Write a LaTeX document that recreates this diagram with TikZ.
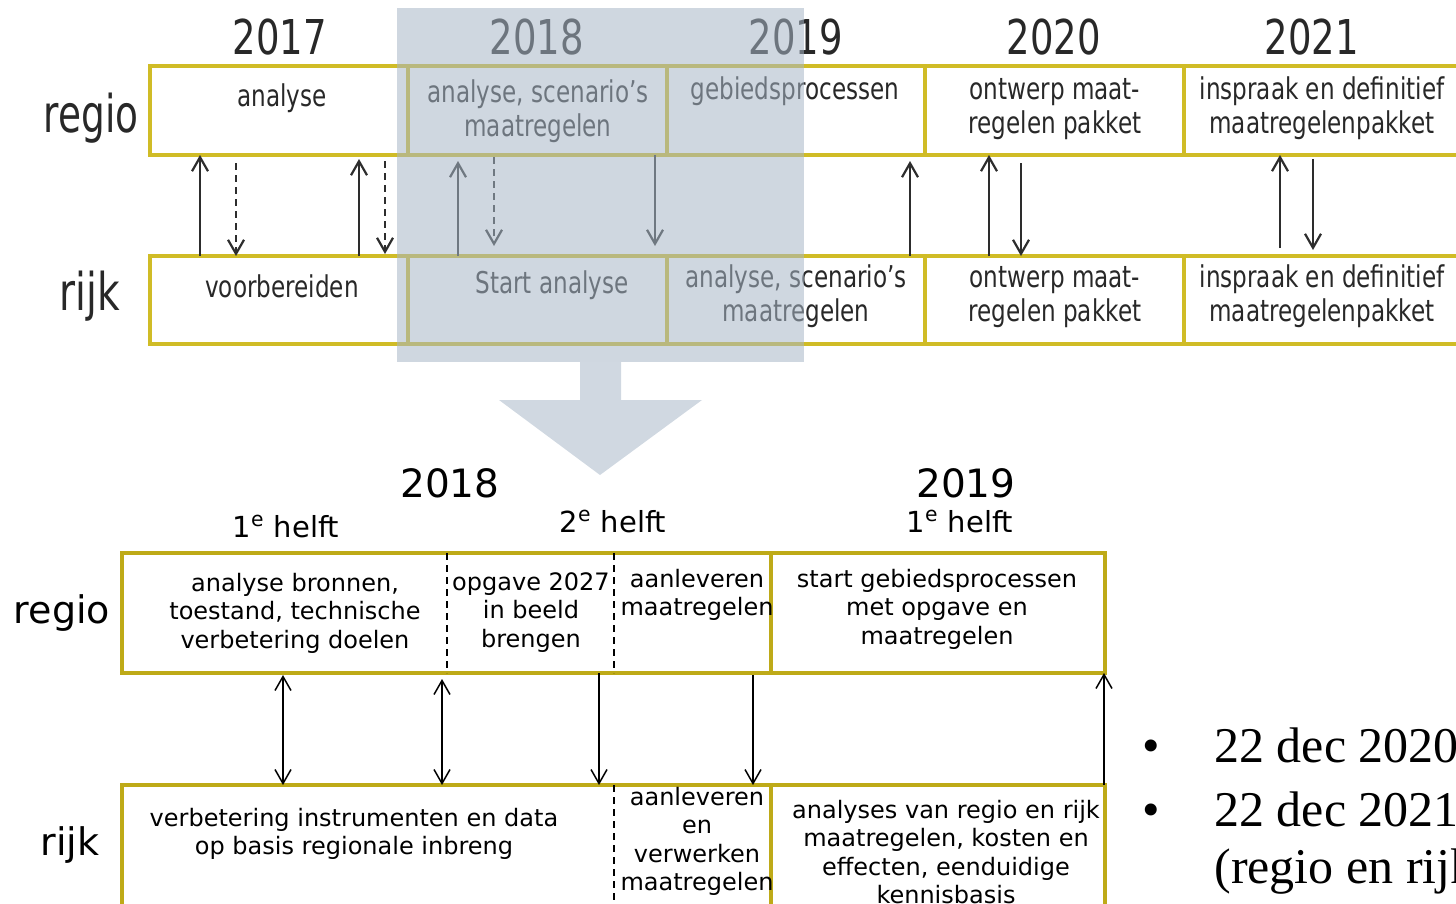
\documentclass[tikz,border=0pt]{standalone}
\usepackage{fontspec}
\setmainfont{DejaVu Sans}
\newfontfamily\seriffam{Liberation Serif}
\usepackage{graphicx}
\usetikzlibrary{arrows.meta}
\definecolor{topy}{RGB}{208,188,38}
\definecolor{boty}{RGB}{190,170,24}
\definecolor{shadec}{RGB}{167,182,198}
\definecolor{arrowc}{RGB}{208,216,225}
\definecolor{toptext}{RGB}{40,40,40}
\definecolor{toparr}{RGB}{45,45,45}
\newcommand\sq[3][0.77]{\scalebox{#1}[1]{\fontsize{#2}{17}\selectfont\begin{tabular}[t]{@{}c@{}}#3\end{tabular}}}
\newcommand\bt[2][12]{{\fontsize{#1}{14.3}\selectfont\begin{tabular}[t]{@{}c@{}}#2\end{tabular}}}
\newcommand\cellnode[6]{\node[#6, minimum width={(#4-#2)*0.5pt}, minimum height={(#5-#3)*0.5pt}, anchor=north west] (#1) at (#2,#3) {};}
\begin{document}
\begin{tikzpicture}[x=0.5pt,y=-0.5pt,
  topcell/.style={draw=topy, line width=2pt, inner sep=0pt, outer sep=0pt},
  botcell/.style={draw=boty, line width=2pt, inner sep=0pt, outer sep=0pt},
  topt/.style={anchor=base, inner sep=0pt, text=toptext},
  bott/.style={anchor=base, inner sep=0pt, text=black},
  tarr/.style={draw=toparr, line width=1.1pt, -{Straight Barb[length=7pt,width=8pt]}},
  tdash/.style={tarr, dash pattern=on 3.5pt off 2.5pt},
  barr/.style={draw=black, line width=0.75pt, -{Straight Barb[length=7pt,width=8pt]}},
  bdarr/.style={draw=black, line width=0.75pt, {Straight Barb[length=7pt,width=8pt]}-{Straight Barb[length=7pt,width=8pt]}},
  bdiv/.style={draw=boty, line width=2pt},
  bdash/.style={draw=black, line width=0.6pt, dash pattern=on 3.5pt off 2.5pt}]
\useasboundingbox (0,0) rectangle (1456,904);
\clip (0,0) rectangle (1456,904);

% ---------- top timeline ----------
\cellnode{g17}{150}{66}{408}{155}{topcell}
\cellnode{g18}{408}{66}{667}{155}{topcell}
\cellnode{g19}{667}{66}{925}{155}{topcell}
\cellnode{g20}{925}{66}{1184}{155}{topcell}
\cellnode{g21}{1184}{66}{1520}{155}{topcell}
\cellnode{k17}{150}{256}{408}{344}{topcell}
\cellnode{k18}{408}{256}{667}{344}{topcell}
\cellnode{k19}{667}{256}{925}{344}{topcell}
\cellnode{k20}{925}{256}{1184}{344}{topcell}
\cellnode{k21}{1184}{256}{1520}{344}{topcell}

\node[topt] (y17) at (280,55) {\sq{24}{2017}};
\node[topt] (y18) at (537,55) {\sq{24}{2018}};
\node[topt] (y19) at (796,55) {\sq{24}{2019}};
\node[topt] (y20) at (1054,55) {\sq{24}{2020}};
\node[topt] (y21) at (1312,55) {\sq{24}{2021}};

\node[topt] (lregio) at (91,133) {\sq[0.72]{26}{regio}};
\node[topt] (lrijk) at (90,310) {\sq[0.75]{26}{rijk}};

\node[topt] (tg17) at (282,107) {\sq{15}{analyse}};
\node[topt] (tg18) at (538,103) {\sq{15}{analyse, scenario’s\\maatregelen}};
\node[topt] (tg19) at (795,100) {\sq{15}{gebiedsprocessen}};
\node[topt] (tg20) at (1055,100) {\sq{15}{ontwerp maat-\\regelen pakket}};
\node[topt] (tg21) at (1322,100) {\sq{15}{inspraak en definitief\\maatregelenpakket}};
\node[topt] (tk17) at (282,297) {\sq{15}{voorbereiden}};
\node[topt] (tk18) at (552,293) {\sq{15}{Start analyse}};
\node[topt] (tk19) at (796,287) {\sq{15}{analyse, scenario’s\\maatregelen}};
\node[topt] (tk20) at (1055,287) {\sq{15}{ontwerp maat-\\regelen pakket}};
\node[topt] (tk21) at (1322,287) {\sq{15}{inspraak en definitief\\maatregelenpakket}};

\coordinate (t1) at (200,0);
\coordinate (t2) at (236,0);
\coordinate (t3) at (359,0);
\coordinate (t4) at (385,0);
\coordinate (t5) at (458,0);
\coordinate (t6) at (494,0);
\coordinate (t7) at (655,0);
\coordinate (t8) at (910,0);
\coordinate (t9) at (989,0);
\coordinate (t10) at (1021,0);
\coordinate (t11) at (1280,0);
\coordinate (t12) at (1313,0);
\draw[tarr] (k17.north -| t1) -- (g17.south -| t1);
\draw[tdash, shorten <=4pt] (g17.south -| t2) -- (k17.north -| t2);
\draw[tarr, shorten >=2pt] (k17.north -| t3) -- (g17.south -| t3);
\draw[tdash, shorten <=3pt, shorten >=1pt] (g17.south -| t4) -- (k17.north -| t4);
\draw[tarr, shorten >=3pt] (k18.north -| t5) -- (g18.south -| t5);
\draw[tdash, shorten <=1pt, shorten >=5pt] (g18.south -| t6) -- (k18.north -| t6);
\draw[tarr, shorten >=5pt] (g18.south -| t7) -- (k18.north -| t7);
\draw[tarr, shorten >=3pt] (k19.north -| t8) -- (g19.south -| t8);
\draw[tarr] (k20.north -| t9) -- (g20.south -| t9);
\draw[tarr, shorten <=4pt] (g20.south -| t10) -- (k20.north -| t10);
\draw[tarr, shorten <=4pt] (k21.north -| t11) -- (g21.south -| t11);
\draw[tarr, shorten <=2pt, shorten >=3pt] (g21.south -| t12) -- (k21.north -| t12);

% overlay and big arrow
\fill[shadec, opacity=0.55] (397,8) rectangle (804,362);
\fill[arrowc] (580,362) -- (621,362) -- (621,400) -- (702,400) -- (600,475) -- (499,400) -- (580,400) -- cycle;

% ---------- bottom detail ----------
\node[bott] (by18) at (450,497) {\fontsize{19.5}{22}\selectfont 2018};
\node[bott] (by19) at (966,497) {\fontsize{19.5}{22}\selectfont 2019};
\node[bott] (h1) at (286,537) {\fontsize{14.5}{17}\selectfont 1\textsuperscript{e} helft};
\node[bott] (h2) at (613,532) {\fontsize{14.5}{17}\selectfont 2\textsuperscript{e} helft};
\node[bott] (h3) at (960,532) {\fontsize{14.5}{17}\selectfont 1\textsuperscript{e} helft};

\node[bott] (bregio) at (62,623) {\fontsize{19}{22}\selectfont regio};
\node[bott] (brijk) at (70,855) {\fontsize{19}{22}\selectfont rijk};

\cellnode{bg}{122}{553}{1105}{673}{botcell}
\cellnode{bk}{122}{785}{1105}{990}{botcell}
\coordinate (d1) at (447,0);
\coordinate (d2) at (614,0);
\coordinate (d3) at (771,0);
\draw[bdash] (bg.north -| d1) -- (bg.south -| d1);
\draw[bdash] (bg.north -| d2) -- (bg.south -| d2);
\draw[bdiv] (bg.north -| d3) -- (bg.south -| d3);
\draw[bdash] (bk.north -| d2) -- (bk.south -| d2);
\draw[bdiv] (bk.north -| d3) -- (bk.south -| d3);

\node[bott] (tb1) at (295,591) {\bt{analyse bronnen,\\toestand, technische\\verbetering doelen}};
\node[bott] (tb2) at (531,590) {\bt{opgave 2027\\in beeld\\brengen}};
\node[bott] (tb3) at (697,587) {\bt{aanleveren\\maatregelen}};
\node[bott] (tb4) at (937,587) {\bt{start gebiedsprocessen\\met opgave en\\maatregelen}};
\node[bott] (tr1) at (354,826) {\bt{verbetering instrumenten en data\\op basis regionale inbreng}};
\node[bott] (tr2) at (697,805) {\bt{aanleveren\\en\\verwerken\\maatregelen}};
\node[bott] (tr3) at (946,818) {\bt{analyses van regio en rijk\\maatregelen, kosten en\\effecten, eenduidige\\kennisbasis}};

\coordinate (a1) at (283,0);
\coordinate (a2) at (442,0);
\coordinate (a3) at (599,0);
\coordinate (a4) at (753,0);
\coordinate (a5) at (1104,0);
\draw[bdarr, shorten <=1pt] (bg.south -| a1) -- (bk.north -| a1);
\draw[bdarr, shorten <=3pt] (bg.south -| a2) -- (bk.north -| a2);
\draw[barr] (bg.south -| a3) -- (bk.north -| a3);
\draw[barr, shorten <=1pt] (bg.south -| a4) -- (bk.north -| a4);
\draw[barr] (bk.north -| a5) -- (bg.south -| a5);

% ---------- bullets ----------
\node[anchor=base, inner sep=0pt, font=\seriffam\fontsize{25}{30}\selectfont] (bu1) at (1151,762) {•};
\node[anchor=base, inner sep=0pt, font=\seriffam\fontsize{25}{30}\selectfont] (bu2) at (1151,826) {•};
\node[anchor=base west, inner sep=0pt, font=\seriffam\fontsize{25}{30}\selectfont] (bt1) at (1214,762) {22 dec 2020};
\node[anchor=base west, inner sep=0pt, font=\seriffam\fontsize{25}{30}\selectfont] (bt2) at (1214,826) {22 dec 2021};
\node[anchor=base west, inner sep=0pt, font=\seriffam\fontsize{25}{30}\selectfont] (bt3) at (1214,883) {(regio en rijk)};
\end{tikzpicture}
\end{document}
